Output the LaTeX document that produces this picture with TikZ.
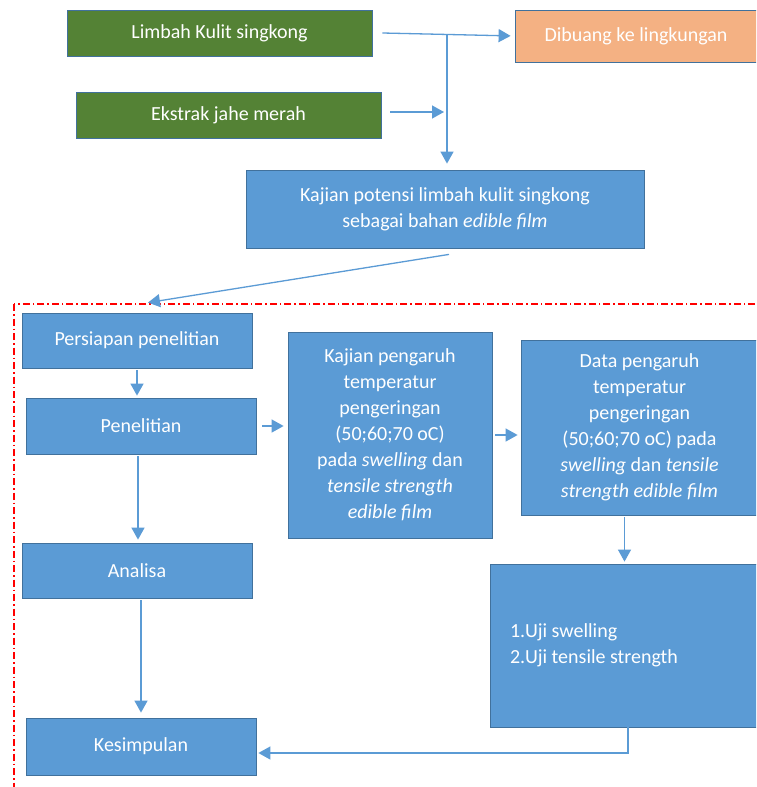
\documentclass[tikz,border=0pt]{standalone}
\usepackage{fontspec}
\setmainfont{Carlito}
\usetikzlibrary{arrows.meta}
\definecolor{bfill}{HTML}{5B9BD5}
\definecolor{bdraw}{HTML}{41719C}
\definecolor{gfill}{HTML}{548235}
\definecolor{ofill}{HTML}{F4B183}
\begin{document}
\begin{tikzpicture}[x=1pt,y=-1pt,
  box/.style={draw=bdraw, line width=0.8pt, text=white, inner sep=0pt, align=center,
    font=\fontsize{20}{26}\selectfont},
  bluebox/.style={box, fill=bfill},
  greenbox/.style={box, fill=gfill},
  arr/.style={draw=bfill, line width=1.3pt, -{Triangle[width=13pt,length=12pt]}},
  frame/.style={draw=red, line width=1.2pt, dash pattern=on 7pt off 3pt on 1.5pt off 3pt}]
\useasboundingbox (0,0) rectangle (756,787);
\clip (0,0) rectangle (756,787);
\fill[white] (0,0) rectangle (756,787);
\draw[frame] (14,304) rectangle (820,840);
\node[greenbox, minimum width=305pt, minimum height=46pt] (limbah) at (219.5,33) {Limbah Kulit singkong};
\node[box, fill=ofill, minimum width=242pt, minimum height=52pt] (dibuang) at (636,36) {Dibuang ke lingkungan};
\node[greenbox, minimum width=305pt, minimum height=46pt] (ekstrak) at (228.5,115) {Ekstrak jahe merah};
\node[bluebox, minimum width=398pt, minimum height=78pt] (kajianp) at (445,209) {Kajian potensi limbah kulit singkong\\sebagai bahan \textit{edible film}};
\node[bluebox, minimum width=230pt, minimum height=55pt] (persiapan) at (137,340.5) {Persiapan penelitian};
\node[bluebox, minimum width=230pt, minimum height=56pt] (penelitian) at (141,426) {Penelitian};
\node[bluebox, minimum width=230pt, minimum height=55pt] (analisa) at (137,570.5) {Analisa};
\node[bluebox, minimum width=230pt, minimum height=57pt] (kesimpulan) at (141,746.5) {Kesimpulan};
\node[bluebox, minimum width=204pt, minimum height=206pt] (kajian2) at (390,435) {Kajian pengaruh\\temperatur\\pengeringan\\(50;60;70 oC)\\pada \textit{swelling} dan\\\textit{tensile strength}\\\textit{edible film}};
\node[bluebox, minimum width=237pt, minimum height=175pt] (data) at (639.5,427.5) {Data pengaruh\\temperatur\\pengeringan\\(50;60;70 oC) pada\\\textit{swelling} dan \textit{tensile}\\\textit{strength edible film}};
\node[bluebox, minimum height=163pt, text width=227pt, inner xsep=20pt, align=flush left] (uji) at (623.5,645.5) {1.Uji swelling\\2.Uji tensile strength};
\coordinate (j1) at (447,34.5);
\draw[arr, shorten >=4pt] ([xshift=10pt]limbah.east) -- (dibuang.west);
\draw[arr, shorten >=6pt] (j1) -- (j1 |- kajianp.north);
\draw[arr, shorten >=3pt] ([xshift=9pt,yshift=3pt]ekstrak.east) -- ([yshift=3pt]ekstrak.east -| j1);
\draw[arr] ([xshift=4pt,yshift=-6pt]kajianp.south) -- ([xshift=11pt,yshift=10pt]persiapan.north);
\draw[arr, shorten <=2pt, shorten >=2pt] (persiapan.south) -- (persiapan.south |- penelitian.north);
\draw[arr, shorten <=2pt, shorten >=3pt] ([xshift=-3pt]penelitian.south) -- ([xshift=-3pt]penelitian.south |- analisa.north);
\draw[arr, shorten <=2pt, shorten >=5pt] (analisa.south -| kesimpulan.north) -- (kesimpulan.north);
\draw[arr, shorten <=6pt, shorten >=4pt] (penelitian.east) -- (penelitian.east -| kajian2.west);
\draw[arr, shorten <=3pt, shorten >=3pt] (kajian2.east) -- (kajian2.east -| data.west);
\draw[arr, shorten <=2pt, shorten >=2pt] ([xshift=-15pt]data.south) -- ([xshift=-15pt]data.south |- uji.north);
\draw[arr, shorten >=2pt] ([xshift=4.5pt]uji.south) |- ([yshift=-6.5pt]kesimpulan.east);
\end{tikzpicture}
\end{document}
